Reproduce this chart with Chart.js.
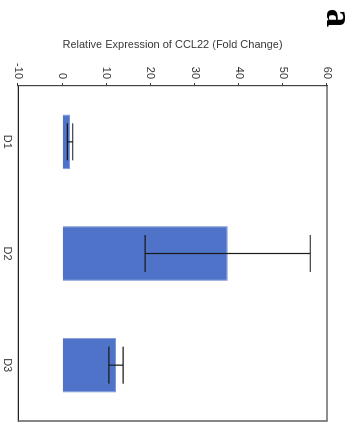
<!DOCTYPE html>
<html>
<head>
<meta charset="utf-8">
<script src="https://cdn.jsdelivr.net/npm/chart.js@4.4.1/dist/chart.umd.min.js"></script>
<style>
  html, body { margin: 0; padding: 0; background: #fff; overflow: hidden; }
  #page { position: relative; width: 361px; height: 424px; }
  #wrap {
    position: absolute; left: 0; top: 0; width: 424px; height: 361px;
    transform-origin: 0 0; transform: translate(361px, 0) rotate(90deg);
  }
</style>
</head>
<body>
<div id="page"><div id="wrap"><canvas id="c" width="424" height="361"></canvas></div></div>
<script>
const categories = ["D1", "D2", "D3"];
const means = [1.8, 37.5, 12.2];
const errors = [0.6, 18.7, 1.6];
const yTicks = [-10, 0, 10, 20, 30, 40, 50, 60];
const axisTitle = "Relative Expression of CCL22 (Fold Change)";
const panelLabel = "a";

const framePlugin = {
  id: 'frame',
  afterDatasetsDraw(chart) {
    const { ctx, chartArea: a, scales } = chart;
    ctx.save();
    // error bars
    ctx.strokeStyle = '#1a1a1a';
    ctx.lineWidth = 1.2;
    means.forEach((m, i) => {
      const x = scales.x.getPixelForValue(i);
      const yl = scales.y.getPixelForValue(m - errors[i]);
      const yh = scales.y.getPixelForValue(m + errors[i]);
      const h = 18.5;
      ctx.beginPath();
      ctx.moveTo(x, yl); ctx.lineTo(x, yh);
      ctx.moveTo(x - h, yl); ctx.lineTo(x + h, yl);
      ctx.moveTo(x - h, yh); ctx.lineTo(x + h, yh);
      ctx.stroke();
    });
    // frame (right and top in this orientation)
    ctx.strokeStyle = '#6a6a6a';
    ctx.lineWidth = 1.6;
    ctx.beginPath();
    ctx.moveTo(a.left, a.top); ctx.lineTo(a.right, a.top); ctx.lineTo(a.right, a.bottom);
    ctx.stroke();
    // panel label
    ctx.fillStyle = '#000';
    ctx.font = 'bold 37px "Liberation Serif", serif';
    ctx.textAlign = 'center';
    ctx.textBaseline = 'middle';
    ctx.fillText(panelLabel, 18, 24);
    ctx.restore();
  }
};

new Chart(document.getElementById('c'), {
  type: 'bar',
  data: {
    labels: categories,
    datasets: [{
      data: means,
      backgroundColor: '#4f73c8',
      borderColor: '#7e98da',
      borderWidth: 1,
      categoryPercentage: 1.0,
      barPercentage: 0.49
    }]
  },
  options: {
    responsive: false,
    animation: false,
    devicePixelRatio: 1,
    layout: { padding: { left: 0, right: 3, top: 34, bottom: 0 } },
    plugins: { legend: { display: false }, tooltip: { enabled: false } },
    scales: {
      x: {
        grid: { display: false, drawTicks: false },
        border: { display: true, color: '#222', width: 1.2 },
        ticks: { color: '#333', font: { family: 'Arial, "Liberation Sans", sans-serif', size: 11 }, padding: 4, maxRotation: 0 },
        afterFit(s) { s.height = 18; }
      },
      y: {
        min: -10, max: 60,
        afterBuildTicks(s) { s.ticks = yTicks.map(v => ({ value: v })); },
        grid: { drawOnChartArea: false, drawTicks: true, tickLength: 3, color: '#333' },
        border: { display: true, color: '#444', width: 1.2 },
        ticks: { color: '#333', font: { family: 'Arial, "Liberation Sans", sans-serif', size: 11 }, padding: 4 },
        title: { display: true, text: axisTitle, color: '#3a3a3a', font: { family: 'Arial, "Liberation Sans", sans-serif', size: 11 }, padding: { top: 38, bottom: 4 } },
        afterFit(s) { s.width = 86; }
      }
    }
  },
  plugins: [framePlugin]
});
</script>
</body>
</html>
